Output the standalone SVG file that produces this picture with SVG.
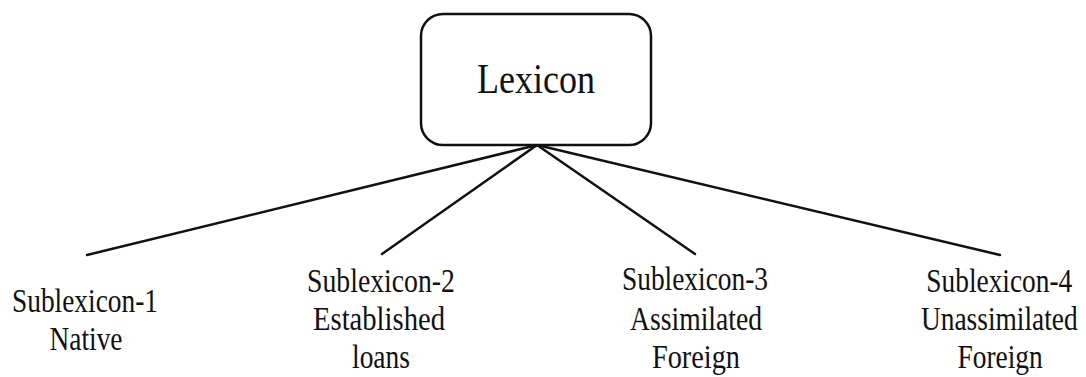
<svg xmlns="http://www.w3.org/2000/svg" width="1086" height="377" viewBox="0 0 1086 377">
<style>
text{font-family:"Liberation Serif","Times New Roman","DejaVu Serif",serif;fill:#111;text-anchor:middle}
.s{font-size:33px}
.edge{stroke:#111;stroke-width:2.5;fill:none;stroke-linecap:round}
</style>
<rect width="1086" height="377" fill="#fff"/>
<g id="connectors">
<line class="edge" x1="537" y1="145" x2="87" y2="255"/>
<line class="edge" x1="537" y1="145" x2="382" y2="254"/>
<line class="edge" x1="537" y1="145" x2="695" y2="254"/>
<line class="edge" x1="537" y1="145" x2="1000" y2="255"/>
</g>
<g id="lexicon">
<rect x="421" y="14" width="230" height="131" rx="22" ry="22" fill="#fff" stroke="#111" stroke-width="2.5"/>
<text x="536" y="93" font-size="42" textLength="118" lengthAdjust="spacingAndGlyphs">Lexicon</text>
</g>
<g id="sub1">
<text class="s" x="85" y="312" textLength="146" lengthAdjust="spacingAndGlyphs">Sublexicon-1</text>
<text class="s" x="86" y="350" textLength="73" lengthAdjust="spacingAndGlyphs">Native</text>
</g>
<g id="sub2">
<text class="s" x="381" y="292" textLength="148" lengthAdjust="spacingAndGlyphs">Sublexicon-2</text>
<text class="s" x="379" y="330" textLength="132" lengthAdjust="spacingAndGlyphs">Established</text>
<text class="s" x="381" y="368" textLength="58" lengthAdjust="spacingAndGlyphs">loans</text>
</g>
<g id="sub3">
<text class="s" x="695" y="290" textLength="146" lengthAdjust="spacingAndGlyphs">Sublexicon-3</text>
<text class="s" x="696" y="330" textLength="132" lengthAdjust="spacingAndGlyphs">Assimilated</text>
<text class="s" x="696" y="368" textLength="88" lengthAdjust="spacingAndGlyphs">Foreign</text>
</g>
<g id="sub4" transform="scale(0.83,1)">
<text class="s" x="1204" y="292">Sublexicon-4</text>
<text class="s" x="1204" y="330">Unassimilated</text>
<text class="s" x="1205" y="368">Foreign</text>
</g>
</svg>
